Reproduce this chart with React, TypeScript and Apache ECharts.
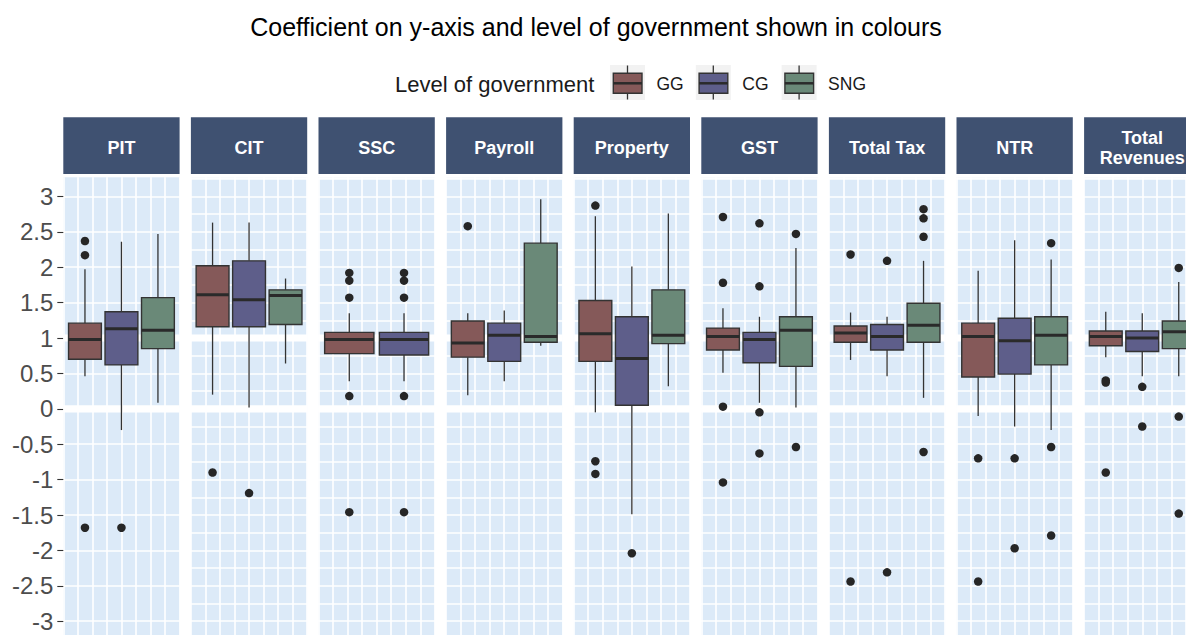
import React, { useEffect, useRef } from 'react';
import * as echarts from 'echarts';

// ---------- data ----------
const categories = ['PIT', 'CIT', 'SSC', 'Payroll', 'Property', 'GST', 'Total Tax', 'NTR', 'Total Revenues'];
const stripLabels = ['PIT', 'CIT', 'SSC', 'Payroll', 'Property', 'GST', 'Total Tax', 'NTR', 'Total\nRevenues'];
const levels = ['GG', 'CG', 'SNG'];
const levelColors = ['#855959', '#5E5E8A', '#6A8978'];

// [lower whisker, Q1, median, Q3, upper whisker] per category
const ggBoxes = [
  [0.46, 0.70, 0.98, 1.21, 1.97],
  [0.20, 1.16, 1.61, 2.02, 2.63],
  [0.39, 0.78, 0.98, 1.08, 1.35],
  [0.19, 0.73, 0.93, 1.24, 1.35],
  [-0.05, 0.67, 1.06, 1.53, 2.72],
  [0.51, 0.83, 1.02, 1.14, 1.42],
  [0.69, 0.94, 1.07, 1.17, 1.36],
  [-0.10, 0.45, 1.02, 1.21, 1.95],
  [0.73, 0.89, 1.02, 1.10, 1.37],
];
const cgBoxes = [
  [-0.30, 0.62, 1.13, 1.37, 2.36],
  [0.02, 1.16, 1.54, 2.09, 2.63],
  [0.39, 0.76, 0.98, 1.08, 1.35],
  [0.39, 0.67, 1.04, 1.21, 1.39],
  [-1.49, 0.05, 0.71, 1.30, 2.01],
  [0.085, 0.65, 0.98, 1.08, 1.30],
  [0.46, 0.83, 1.02, 1.19, 1.30],
  [-0.25, 0.49, 0.96, 1.28, 2.38],
  [0.46, 0.81, 1.00, 1.10, 1.35],
];
const sngBoxes = [
  [0.085, 0.85, 1.11, 1.57, 2.47],
  [0.64, 1.19, 1.60, 1.68, 1.84],
  null,
  [0.89, 0.94, 1.02, 2.34, 2.96],
  [0.32, 0.92, 1.04, 1.68, 2.76],
  [0.02, 0.60, 1.11, 1.30, 2.27],
  [0.155, 0.94, 1.18, 1.49, 2.09],
  [-0.30, 0.62, 1.04, 1.30, 2.11],
  [0.46, 0.85, 1.09, 1.24, 1.79],
];
const ggOutliers = [
  [2.37, 2.17, -1.68],
  [-0.90],
  [1.92, 1.81, 1.57, 0.18, -1.46],
  [2.58],
  [2.87, -0.74, -0.92],
  [2.71, 1.78, 0.03, -1.04],
  [2.18, -2.44],
  [-0.70, -2.44],
  [0.40, 0.37, -0.90],
];
const cgOutliers = [
  [-1.68],
  [-1.19],
  [1.92, 1.81, 1.57, 0.18, -1.46],
  [],
  [-2.04],
  [2.62, 1.73, -0.05, -0.63],
  [2.09, -2.31],
  [-0.70, -1.97],
  [0.31, -0.25],
];
const sngOutliers = [
  [],
  [],
  [],
  [],
  [],
  [2.47, -0.54],
  [2.82, 2.69, 2.43, -0.61],
  [2.34, -0.54, -1.79],
  [1.99, -0.11, -1.48],
];
const yTickValues = [-3, -2.5, -2, -1.5, -1, -0.5, 0, 0.5, 1, 1.5, 2, 2.5, 3];
const refLines = [0, 1];

// ---------- layout ----------
const FONT = '"Liberation Sans", Arial, sans-serif';
const CHART_W = 1215;
const CHART_H = 665;
const PANEL_LEFT0 = 63.3;
const PANEL_STEP = 127.6;
const PANEL_W = 116.3;
const PANEL_TOP = 177.3;
const PANEL_H = 479.3;
const STRIP_TOP = 117.3;
const STRIP_H = 56.7;
const Y_MIN = -3.5;
const Y_MAX = 3.27;
const X_MAX = 8;
const DODGE_TOTAL = 7.53;
const PANEL_BG = '#DCEAF8';
const STRIP_BG = '#3F5171';
const LINE_DARK = '#333333';

const allBoxes = [ggBoxes, cgBoxes, sngBoxes];
const allOutliers = [ggOutliers, cgOutliers, sngOutliers];

function buildOption() {
  const grids: any[] = [];
  const xAxes: any[] = [];
  const yAxes: any[] = [];
  const series: any[] = [];
  const graphics: any[] = [];

  categories.forEach((cat, i) => {
    const left = PANEL_LEFT0 + i * PANEL_STEP;
    grids.push({
      left,
      top: PANEL_TOP,
      width: PANEL_W,
      height: PANEL_H,
      show: true,
      backgroundColor: PANEL_BG,
      borderWidth: 0,
      containLabel: false,
    });
    xAxes.push({
      gridIndex: i,
      type: 'value',
      min: 0,
      max: X_MAX,
      interval: 1,
      axisLabel: { show: false },
      axisTick: { show: false },
      axisLine: { show: false },
      splitLine: { show: true, lineStyle: { color: '#ffffff', width: 1.6 } },
    });
    yAxes.push({
      gridIndex: i,
      type: 'value',
      min: Y_MIN,
      max: Y_MAX,
      interval: 0.25,
      axisLine: { show: false },
      axisTick:
        i === 0
          ? { show: true, customValues: yTickValues, length: 6, lineStyle: { color: LINE_DARK, width: 1.1 } }
          : { show: false },
      axisLabel:
        i === 0
          ? {
              show: true,
              customValues: yTickValues,
              fontSize: 24,
              fontFamily: FONT,
              color: '#4D4D4D',
              margin: 10,
            }
          : { show: false },
      splitLine: { show: true, lineStyle: { color: '#ffffff', width: 1.6 } },
    });

    // white reference bands
    series.push({
      type: 'custom',
      name: 'ref-' + cat,
      xAxisIndex: i,
      yAxisIndex: i,
      z: 1,
      silent: true,
      data: refLines.map((v) => [0, v]),
      encode: { x: 0, y: 1 },
      renderItem: (params: any, api: any) => {
        const p = api.coord([0, api.value(1)]);
        const cs = params.coordSys;
        return {
          type: 'rect',
          shape: { x: cs.x, y: p[1] - 3.6, width: cs.width, height: 7.2 },
          style: { fill: '#ffffff' },
        };
      },
    });

    // boxes
    const present = [0, 1, 2].filter((g) => allBoxes[g][i]);
    const n = present.length;
    const spacing = DODGE_TOTAL / n;
    const boxData: any[] = [];
    const outData: any[] = [];
    present.forEach((g, k) => {
      const center = X_MAX / 2 + (k - (n - 1) / 2) * spacing;
      const s = allBoxes[g][i] as number[];
      boxData.push([center, 0.9 * spacing, s[0], s[1], s[2], s[3], s[4], g]);
      allOutliers[g][i].forEach((v) => outData.push([center, v]));
    });

    series.push({
      type: 'custom',
      name: cat,
      xAxisIndex: i,
      yAxisIndex: i,
      z: 2,
      data: boxData,
      encode: { x: 0, y: [2, 3, 4, 5, 6] },
      renderItem: (params: any, api: any) => {
        const xc = api.value(0);
        const half = api.size([api.value(1), 0])[0] / 2;
        const lo = api.coord([xc, api.value(2)]);
        const q1 = api.coord([xc, api.value(3)]);
        const md = api.coord([xc, api.value(4)]);
        const q3 = api.coord([xc, api.value(5)]);
        const hi = api.coord([xc, api.value(6)]);
        const color = levelColors[api.value(7)];
        const x = lo[0];
        return {
          type: 'group',
          children: [
            { type: 'line', shape: { x1: x, y1: hi[1], x2: x, y2: q3[1] }, style: { stroke: LINE_DARK, lineWidth: 1.3 } },
            { type: 'line', shape: { x1: x, y1: q1[1], x2: x, y2: lo[1] }, style: { stroke: LINE_DARK, lineWidth: 1.3 } },
            {
              type: 'rect',
              shape: { x: x - half, y: q3[1], width: 2 * half, height: q1[1] - q3[1] },
              style: { fill: color, stroke: LINE_DARK, lineWidth: 1.4 },
            },
            {
              type: 'line',
              shape: { x1: x - half, y1: md[1], x2: x + half, y2: md[1] },
              style: { stroke: '#2A2A2A', lineWidth: 3 },
            },
          ],
        };
      },
    });

    series.push({
      type: 'scatter',
      name: cat + ' outliers',
      xAxisIndex: i,
      yAxisIndex: i,
      z: 3,
      symbol: 'circle',
      symbolSize: 8.5,
      itemStyle: { color: '#262626', opacity: 1 },
      data: outData,
    });

    // strip
    graphics.push({
      type: 'rect',
      shape: { x: left, y: STRIP_TOP, width: PANEL_W, height: STRIP_H },
      style: { fill: STRIP_BG },
      silent: true,
    });
    graphics.push({
      type: 'text',
      x: left + PANEL_W / 2,
      y: STRIP_TOP + STRIP_H / 2 + 2.5,
      style: {
        text: stripLabels[i],
        fill: '#ffffff',
        font: 'bold 18px ' + FONT,
        align: 'center',
        verticalAlign: 'middle',
        textAlign: 'center',
        textVerticalAlign: 'middle',
        lineHeight: 20,
      },
      silent: true,
    });
  });

  // legend
  graphics.push({
    type: 'text',
    x: 395,
    y: 84,
    style: {
      text: 'Level of government',
      fill: '#1A1A1A',
      font: '22px ' + FONT,
      align: 'left',
      verticalAlign: 'middle',
      textAlign: 'left',
      textVerticalAlign: 'middle',
    },
    silent: true,
  });
  levels.forEach((lv, g) => {
    const kx = 610 + g * 85.8;
    const ky = 65;
    const cx = kx + 17.5;
    graphics.push(
      { type: 'rect', shape: { x: kx, y: ky, width: 35, height: 35 }, style: { fill: '#F2F2F2' }, silent: true },
      { type: 'line', shape: { x1: cx, y1: ky + 0.5, x2: cx, y2: ky + 8.3 }, style: { stroke: LINE_DARK, lineWidth: 1.3 }, silent: true },
      { type: 'line', shape: { x1: cx, y1: ky + 28.3, x2: cx, y2: ky + 34.5 }, style: { stroke: LINE_DARK, lineWidth: 1.3 }, silent: true },
      {
        type: 'rect',
        shape: { x: kx + 3.3, y: ky + 8.3, width: 28.7, height: 20 },
        style: { fill: levelColors[g], stroke: LINE_DARK, lineWidth: 1.4 },
        silent: true,
      },
      {
        type: 'line',
        shape: { x1: kx + 3.3, y1: ky + 18.3, x2: kx + 32, y2: ky + 18.3 },
        style: { stroke: '#2A2A2A', lineWidth: 2.5 },
        silent: true,
      },
      {
        type: 'text',
        x: kx + 46.5,
        y: 84,
        style: {
          text: lv,
          fill: '#1A1A1A',
          font: '17.5px ' + FONT,
          align: 'left',
          verticalAlign: 'middle',
          textAlign: 'left',
          textVerticalAlign: 'middle',
        },
        silent: true,
      }
    );
  });

  return {
    animation: false,
    backgroundColor: '#ffffff',
    title: {
      text: 'Coefficient on y-axis and level of government shown in colours',
      left: 591,
      textAlign: 'center',
      top: 9,
      textStyle: { fontSize: 25, fontWeight: 'normal', color: '#000000', fontFamily: FONT },
    },
    grid: grids,
    xAxis: xAxes,
    yAxis: yAxes,
    series,
    graphic: { elements: graphics },
  };
}

export default function App() {
  const ref = useRef<HTMLDivElement>(null);
  useEffect(() => {
    if (!ref.current) return;
    const chart = echarts.init(ref.current, undefined, { renderer: 'svg' });
    chart.setOption(buildOption() as any);
    return () => chart.dispose();
  }, []);
  return (
    <div
      ref={ref}
      style={{ position: 'fixed', left: 0, top: 0, width: CHART_W, height: CHART_H, background: '#fff' }}
    />
  );
}
